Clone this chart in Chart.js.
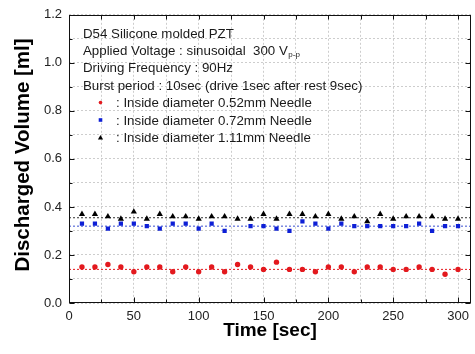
<!DOCTYPE html>
<html><head><meta charset="utf-8">
<script src="https://cdn.jsdelivr.net/npm/chart.js@4.4.0/dist/chart.umd.min.js"></script>
<style>html,body{margin:0;padding:0;background:#fff;overflow:hidden;}</style>
</head><body>
<canvas id="c" width="475" height="354"></canvas>
<script>
// ---- data ----
const times = [10,20,30,40,50,60,70,80,90,100,110,120,130,140,150,160,170,180,190,200,210,220,230,240,250,260,270,280,290,300];
const needle052 = [0.15,0.15,0.16,0.15,0.13,0.15,0.15,0.13,0.15,0.13,0.15,0.13,0.16,0.15,0.14,0.17,0.14,0.14,0.13,0.15,0.15,0.13,0.15,0.15,0.14,0.14,0.15,0.14,0.12,0.14];
const needle072 = [0.33,0.33,0.31,0.33,0.33,0.32,0.31,0.33,0.33,0.31,0.33,0.30,null,0.32,0.32,0.31,0.30,0.34,0.33,0.31,0.33,0.32,0.32,0.32,0.32,0.32,0.33,0.30,0.32,0.32];
const needle111 = [0.37,0.37,0.36,0.35,0.38,0.35,0.37,0.36,0.36,0.35,0.36,0.36,0.35,0.35,0.37,0.35,0.37,0.37,0.36,0.37,0.35,0.36,0.34,0.37,0.35,0.36,0.36,0.36,0.35,0.35];
const mean052 = 0.14, mean072 = 0.32, mean111 = 0.355;
const xRange = [0, 310];
const yRange = [0, 1.2];
const xTicks = [0,25,50,75,100,125,150,175,200,225,250,275,300];
const xLabelTicks = [0,50,100,150,200,250,300];
const yTicks = [0,0.1,0.2,0.3,0.4,0.5,0.6,0.7,0.8,0.9,1.0,1.1,1.2];
const yLabelTicks = ['0.0','0.2','0.4','0.6','0.8','1.0','1.2'];
const noteLines = ['D54 Silicone molded PZT','Applied Voltage : sinusoidal  300 V','Driving Frequency : 90Hz','Burst period : 10sec (drive 1sec after rest 9sec)'];
const voltSub = 'p-p';
const seriesNames = [': Inside diameter 0.52mm Needle',': Inside diameter 0.72mm Needle',': Inside diameter 1.11mm Needle'];
const xTitle = 'Time [sec]';
const yTitle = 'Discharged Volume [ml]';

const RED = '#e3191e', BLUE = '#0d1fd6', BLACK = '#000000';
const FONT = '"Liberation Sans", Arial, sans-serif';

const pts = (arr) => times.map((t,i)=>({x:t,y:arr[i]}));
const hline = (v) => [{x:xRange[0],y:v},{x:xRange[1],y:v}];

const framePlugin = {
  id:'frame',
  afterDraw(chart){
    const ctx = chart.ctx, a = chart.chartArea;
    const xs = chart.scales.x, ys = chart.scales.y;
    ctx.save();
    ctx.strokeStyle = '#111'; ctx.lineWidth = 1;
    const L = Math.round(a.left)+0.5, R = Math.round(a.right)-0.5, T = Math.round(a.top)+0.5, B = Math.round(a.bottom)-0.5;
    ctx.strokeRect(L, T, R-L, B-T);
    ctx.beginPath();
    xTicks.forEach(v=>{
      const px = Math.round(xs.getPixelForValue(v))+0.5;
      const len = xLabelTicks.includes(v) ? 5 : 3;
      ctx.moveTo(px,B); ctx.lineTo(px,B-len);
      ctx.moveTo(px,T); ctx.lineTo(px,T+4);
    });
    yTicks.forEach((v,i)=>{
      const py = Math.round(ys.getPixelForValue(v))+0.5;
      const len = i%2===0 ? 5 : 3;
      ctx.moveTo(L,py); ctx.lineTo(L+len,py);
      ctx.moveTo(R,py); ctx.lineTo(R-len,py);
    });
    ctx.stroke();

    // notes
    const NF = '13.3px ' + FONT;
    ctx.fillStyle = '#1a1a1a';
    ctx.font = NF;
    ctx.textBaseline = 'alphabetic';
    ctx.textAlign = 'left';
    const x0 = 83, y0 = 37.5, dy = 17.4;
    noteLines.forEach((s,i)=>{
      ctx.fillText(s, x0, y0 + i*dy);
      if (i===1){
        const w = ctx.measureText(s).width;
        ctx.font = '8px ' + FONT;
        ctx.fillText(voltSub, x0 + w + 0.5, y0 + i*dy + 2);
        ctx.font = NF;
      }
    });
    const cols = [RED, BLUE, BLACK];
    seriesNames.forEach((s,i)=>{
      const yy = y0 + (4+i)*dy;
      ctx.fillStyle = '#1a1a1a';
      ctx.fillText(s, 116, yy);
      const cy = yy - 4.5, cx = 100.5;
      ctx.fillStyle = cols[i];
      ctx.beginPath();
      if (i===0){ ctx.arc(cx,cy,1.8,0,Math.PI*2); }
      else if (i===1){ ctx.rect(cx-1.8,cy-1.8,3.6,3.6); }
      else { ctx.moveTo(cx,cy-2.5); ctx.lineTo(cx+2.6,cy+2); ctx.lineTo(cx-2.6,cy+2); ctx.closePath(); }
      ctx.fill();
    });

    // axis titles
    ctx.fillStyle = '#000';
    ctx.font = 'bold 19px ' + FONT;
    ctx.textAlign = 'center';
    ctx.textBaseline = 'alphabetic';
    ctx.fillText(xTitle, (a.left+a.right)/2, 335.5);
    ctx.save();
    ctx.translate(28.5, 155);
    ctx.rotate(-Math.PI/2);
    ctx.font = 'bold 20.5px ' + FONT;
    ctx.fillText(yTitle, 0, 0);
    ctx.restore();
    ctx.restore();
  }
};

new Chart(document.getElementById('c'), {
  type:'scatter',
  data:{datasets:[
    {label:'0.52mm', data:pts(needle052), pointStyle:'circle', pointRadius:2.7, backgroundColor:RED, borderColor:RED, borderWidth:0, order:1},
    {label:'0.72mm', data:pts(needle072), pointStyle:'rect', pointRadius:3.0, backgroundColor:BLUE, borderColor:BLUE, borderWidth:0, order:1},
    {label:'1.11mm', data:pts(needle111), pointStyle:'triangle', pointRadius:3.6, backgroundColor:BLACK, borderColor:BLACK, borderWidth:0, order:1},
    {type:'line', label:'m052', data:hline(mean052), borderColor:RED, borderWidth:1, borderDash:[2,2], pointRadius:0, order:2},
    {type:'line', label:'m072', data:hline(mean072), borderColor:'#3a4fd0', borderWidth:1, borderDash:[2,2], pointRadius:0, order:2},
    {type:'line', label:'m111', data:hline(mean111), borderColor:'#333', borderWidth:1, borderDash:[2,2], pointRadius:0, order:2}
  ]},
  options:{
    responsive:false, animation:false, devicePixelRatio:1,
    layout:{padding:{top:12,right:3,left:0,bottom:0}},
    plugins:{legend:{display:false}, tooltip:{enabled:false}},
    scales:{
      x:{type:'linear', min:xRange[0], max:xRange[1],
        afterFit(s){ s.height = 51; },
        afterBuildTicks(s){ s.ticks = xTicks.map(v=>({value:v})); },
        grid:{color:'#cdcdcd', lineWidth:1, drawTicks:false},
        border:{display:false, dash:[2,2]},
        ticks:{padding:6, color:'#222', font:{family:FONT, size:13}, maxRotation:0, autoSkip:false,
          callback:(v)=> xLabelTicks.includes(v) ? String(v) : ''}
      },
      y:{type:'linear', min:yRange[0], max:yRange[1],
        afterFit(s){ s.width = 69; },
        afterBuildTicks(s){ s.ticks = yTicks.map(v=>({value:v})); },
        grid:{color:'#cdcdcd', lineWidth:1, drawTicks:false},
        border:{display:false, dash:[2,2]},
        ticks:{padding:7, color:'#222', font:{family:FONT, size:13}, autoSkip:false,
          callback:(v,i)=> i%2===0 ? yLabelTicks[i/2] : ''}
      }
    }
  },
  plugins:[framePlugin]
});
</script>
</body></html>
